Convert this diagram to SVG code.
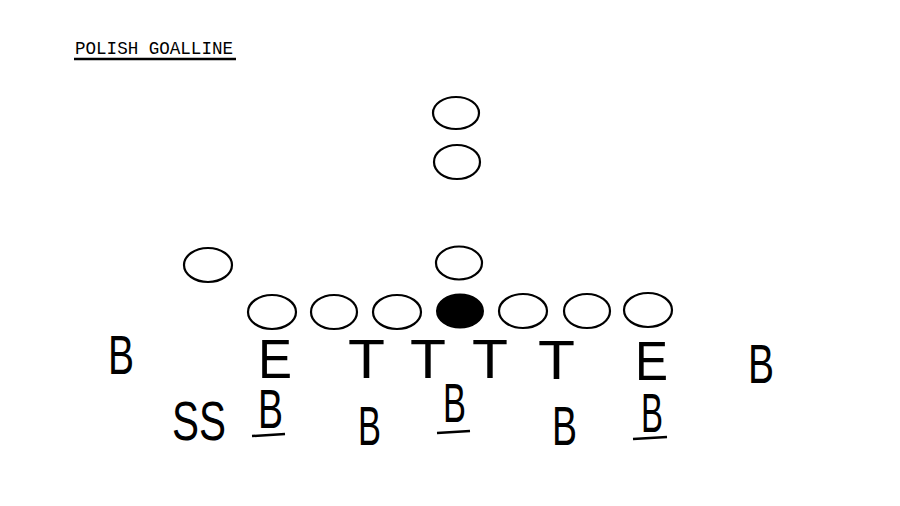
<svg xmlns="http://www.w3.org/2000/svg" width="900" height="506" viewBox="0 0 900 506">
<style>
.o{fill:#fff;stroke:#000;stroke-width:2.2}
.f{fill:#000;stroke:#000;stroke-width:2}
.l{font-family:"Liberation Sans",Arial,sans-serif;font-size:56px;fill:#000}
.t{font-family:"Liberation Mono","DejaVu Sans Mono",monospace;font-size:18px;fill:#000}
.u{stroke:#000;stroke-width:2.5}
</style>
<rect width="900" height="506" fill="#fff"/>
<g id="title">
<text class="t" x="75" y="54" textLength="158" lengthAdjust="spacingAndGlyphs">POLISH GOALLINE</text>
<line class="u" x1="74" y1="59" x2="236" y2="59" stroke-width="1.5"/>
</g>
<g id="defense">
<ellipse id="d1" class="o" cx="456" cy="113" rx="23" ry="16"/>
<ellipse id="d2" class="o" cx="457" cy="162" rx="23" ry="17"/>
<ellipse id="d3" class="o" cx="459" cy="263" rx="23" ry="16.5"/>
<ellipse id="d4" class="o" cx="208" cy="265" rx="24" ry="17"/>
<ellipse id="l1" class="o" cx="272" cy="312" rx="24" ry="17"/>
<ellipse id="l2" class="o" cx="334" cy="312" rx="23" ry="17"/>
<ellipse id="l3" class="o" cx="397" cy="312" rx="24" ry="17"/>
<ellipse id="c" class="f" cx="460" cy="311" rx="23" ry="16.5"/>
<ellipse id="l5" class="o" cx="523" cy="311" rx="24" ry="17"/>
<ellipse id="l6" class="o" cx="587" cy="311" rx="23" ry="17"/>
<ellipse id="l7" class="o" cx="648" cy="310" rx="24" ry="17"/>
</g>
<g id="offense">
<g id="bL"><text class="l" x="108" y="374" textLength="26" lengthAdjust="spacingAndGlyphs">B</text></g>
<g id="eL"><text class="l" x="258" y="378" textLength="34" lengthAdjust="spacingAndGlyphs">E</text></g>
<g id="t1"><text class="l" x="348" y="378" textLength="37" lengthAdjust="spacingAndGlyphs">T</text></g>
<g id="t2"><text class="l" x="410" y="378" textLength="36" lengthAdjust="spacingAndGlyphs">T</text></g>
<g id="t3"><text class="l" x="472" y="378" textLength="36" lengthAdjust="spacingAndGlyphs">T</text></g>
<g id="t4"><text class="l" x="538" y="379" textLength="37" lengthAdjust="spacingAndGlyphs">T</text></g>
<g id="eR"><text class="l" x="635" y="380" textLength="33" lengthAdjust="spacingAndGlyphs">E</text></g>
<g id="bR"><text class="l" x="748" y="383" textLength="26" lengthAdjust="spacingAndGlyphs">B</text></g>
<g id="ss"><text class="l" x="172" y="440" font-size="60" textLength="54" lengthAdjust="spacingAndGlyphs">SS</text></g>
<g id="b1"><text class="l" x="258" y="428" textLength="25" lengthAdjust="spacingAndGlyphs">B</text><line class="u" x1="252" y1="436" x2="285" y2="434"/></g>
<g id="b2"><text class="l" x="358" y="445" textLength="23" lengthAdjust="spacingAndGlyphs">B</text></g>
<g id="b3"><text class="l" x="443" y="422" textLength="23" lengthAdjust="spacingAndGlyphs">B</text><line class="u" x1="437" y1="433" x2="470" y2="431"/></g>
<g id="b4"><text class="l" x="552" y="445" textLength="25" lengthAdjust="spacingAndGlyphs">B</text></g>
<g id="b5"><text class="l" x="641" y="432" textLength="22" lengthAdjust="spacingAndGlyphs">B</text><line class="u" x1="633" y1="439" x2="667" y2="437"/></g>
</g>
<g id="connectors"/>
</svg>
